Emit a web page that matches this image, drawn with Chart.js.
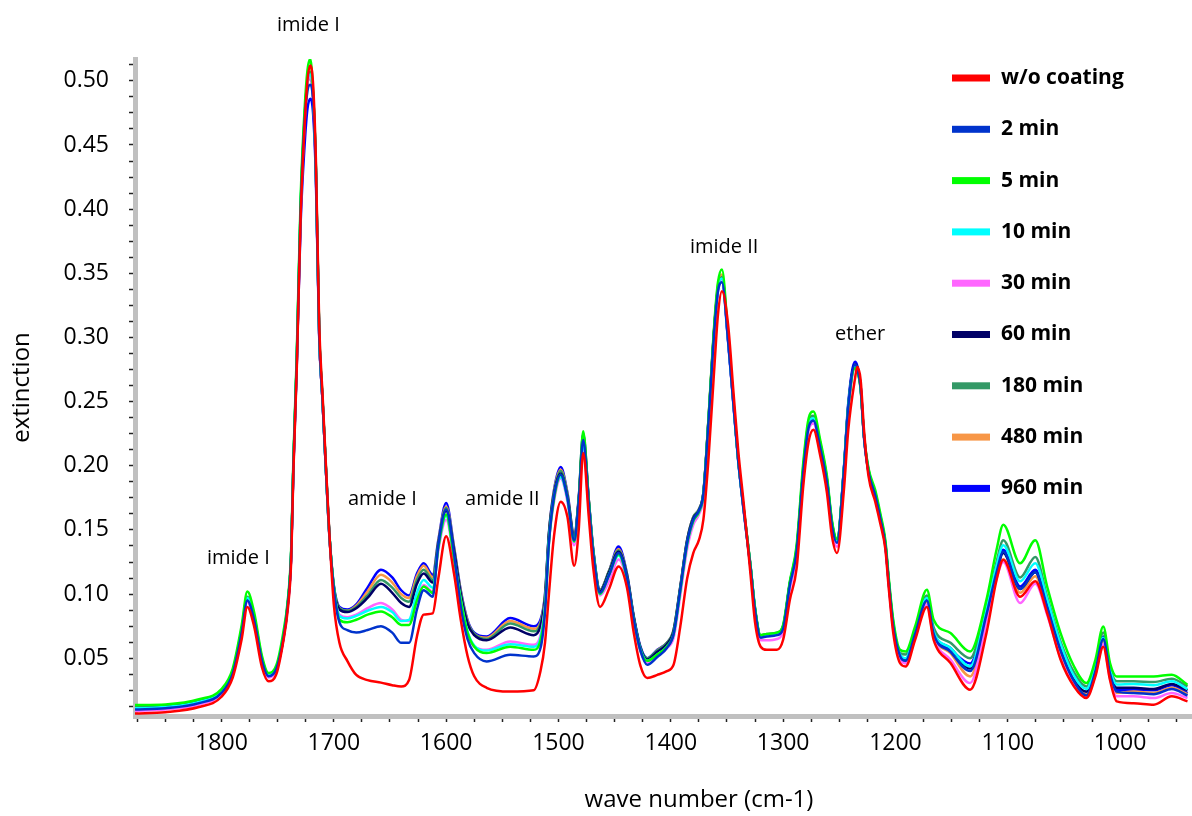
<!DOCTYPE html>
<html>
<head>
<meta charset="utf-8">
<script src="https://cdn.jsdelivr.net/npm/chart.js@4.4.1/dist/chart.umd.min.js"></script>
<style>
  html, body { margin: 0; padding: 0; background: #fff; }
</style>
</head>
<body>
<canvas id="spectrumChart" width="1192" height="816"></canvas>
<script>
// wave numbers (cm-1)
const waveNumbers = [
    1877, 1850, 1820, 1800, 1790, 1782, 1777, 1771, 1764, 1758,
    1751, 1745, 1741, 1738, 1736, 1733, 1729.5, 1726, 1723.5, 1721,
    1718.5, 1716, 1713, 1710, 1707, 1704, 1700, 1695, 1688, 1680,
    1670, 1658, 1648, 1640, 1633, 1626, 1620, 1612, 1607, 1600,
    1593, 1587, 1581, 1575, 1564, 1543, 1522, 1516, 1512, 1508.5,
    1504, 1498, 1492, 1486, 1482, 1478, 1473, 1469, 1463, 1455,
    1446.5, 1439, 1433, 1427, 1421, 1412, 1403.5, 1397.5, 1391.5, 1385.5,
    1380, 1375, 1371, 1366.5, 1361, 1358, 1354.5, 1349, 1344, 1340,
    1335, 1329, 1325, 1320, 1314.5, 1305.5, 1300, 1294, 1288, 1282,
    1277.5, 1273, 1267, 1261, 1256.5, 1252, 1246, 1242, 1236, 1234,
    1231, 1228, 1224, 1218, 1213.5, 1209, 1206, 1202, 1196, 1191,
    1182.5, 1172, 1166, 1151, 1133.5, 1119, 1110, 1104, 1089, 1075.5,
    1065, 1053, 1041, 1030, 1022, 1015, 1009, 1003, 988, 970, 954, 940
];

const woCoating = [
    .007, .008, .012, .020, .035, .065, .090, .075, .043, .032,
    .038, .063, .088, .125, .195, .275, .395, .465, .500, .512,
    .498, .440, .310, .255, .200, .148, .092, .062, .048, .037,
    .033, .031, .029, .028, .033, .067, .084, .085, .112, .145,
    .116, .080, .052, .036, .027, .024, .025, .040, .062, .100,
    .145, .172, .160, .122, .150, .210, .160, .120, .090, .104,
    .1215, .105, .070, .044, .0346, .037, .040, .045, .075, .112,
    .132, .142, .158, .205, .280, .318, .336, .310, .255, .212,
    .170, .115, .078, .059, .0566, .0566, .0644, .0956, .120, .185,
    .218, .228, .208, .179, .145, .132, .180, .228, .268, .277,
    .267, .228, .192, .172, .155, .135, .105, .070, .0463, .0436,
    .0644, .090, .0644, .0463, .0255, .0696, .111, .1267, .098, .110,
    .0852, .049, .028, .019, .0358, .059, .033, .0164, .015, .0138, .0203, .0164
];

const min2 = [
    .010, .011, .015, .023, .038, .070, .095, .080, .048, .036,
    .042, .065, .091, .129, .198, .278, .398, .468, .492, .497,
    .485, .430, .302, .250, .196, .147, .104, .078, .072, .070,
    .072, .075, .070, .062, .062, .088, .103, .098, .138, .166,
    .132, .090, .065, .054, .0475, .0527, .0514, .058, .086, .140,
    .176, .193, .175, .142, .172, .220, .170, .131, .101, .115,
    .132, .113, .080, .056, .045, .051, .058, .069, .104, .140,
    .158, .165, .178, .233, .308, .336, .343, .297, .245, .204,
    .164, .120, .087, .066, .067, .068, .073, .107, .133, .196,
    .229, .235, .214, .187, .153, .140, .195, .246, .279, .276,
    .261, .222, .195, .177, .159, .138, .109, .075, .052, .048,
    .069, .095, .069, .055, .040, .084, .117, .133, .104, .117,
    .090, .056, .032, .021, .040, .065, .038, .024, .0229, .022, .026, .021
];

const min5 = [
    .0135, .014, .018, .026, .042, .076, .102, .086, .052, .0385,
    .045, .070, .095, .134, .205, .287, .410, .478, .508, .517,
    .492, .435, .305, .252, .198, .148, .106, .080, .078, .080,
    .084, .0865, .082, .076, .076, .095, .106, .101, .136, .162,
    .128, .095, .070, .059, .054, .059, .0566, .064, .088, .140,
    .174, .193, .175, .141, .172, .227, .172, .132, .100, .115,
    .131, .112, .080, .056, .048, .053, .059, .069, .103, .139,
    .157, .164, .178, .236, .314, .343, .353, .302, .248, .205,
    .166, .122, .089, .068, .069, .070, .076, .110, .138, .203,
    .236, .2423, .220, .192, .157, .143, .195, .245, .276, .274,
    .260, .224, .198, .181, .163, .142, .113, .080, .0566, .0553,
    .0748, .1034, .080, .0696, .0553, .0956, .1345, .154, .124, .142,
    .106, .0696, .0436, .0307, .0488, .0748, .0463, .0358, .0358, .0358, .0372, .0294
];

const min10 = [
    .011, .012, .016, .024, .039, .072, .097, .082, .049, .037,
    .043, .066, .093, .131, .202, .283, .405, .472, .500, .505,
    .490, .433, .303, .251, .197, .147, .105, .083, .081, .083,
    .087, .090, .086, .079, .080, .101, .111, .105, .137, .161,
    .129, .096, .071, .060, .056, .061, .059, .066, .090, .142,
    .176, .191, .174, .141, .171, .217, .171, .132, .100, .115,
    .130, .112, .080, .057, .048, .053, .059, .069, .103, .139,
    .157, .164, .177, .234, .309, .338, .346, .298, .246, .204,
    .165, .121, .088, .067, .068, .069, .074, .108, .134, .198,
    .231, .237, .216, .189, .155, .141, .196, .247, .278, .276,
    .261, .223, .196, .178, .160, .139, .110, .077, .053, .050,
    .071, .097, .071, .058, .0436, .088, .122, .138, .110, .124,
    .096, .061, .036, .026, .044, .066, .041, .0296, .030, .029, .032, .026
];

const min30 = [
    .009, .010, .014, .022, .037, .069, .094, .079, .047, .035,
    .041, .064, .090, .128, .197, .278, .398, .468, .497, .503,
    .488, .430, .302, .250, .196, .146, .104, .084, .082, .084,
    .089, .093, .088, .080, .079, .097, .107, .102, .134, .158,
    .127, .094, .070, .059, .0566, .063, .0605, .068, .091, .140,
    .172, .190, .172, .138, .167, .214, .167, .128, .099, .110,
    .127, .110, .078, .055, .047, .052, .058, .066, .099, .135,
    .154, .162, .175, .232, .307, .336, .344, .297, .245, .204,
    .164, .120, .086, .064, .064, .065, .071, .104, .130, .194,
    .227, .233, .212, .185, .150, .137, .192, .243, .276, .275,
    .262, .224, .195, .176, .158, .137, .107, .073, .050, .046,
    .066, .092, .066, .049, .0307, .078, .112, .125, .093, .108,
    .084, .050, .029, .020, .037, .061, .034, .0203, .0203, .019, .0229, .019
];

const min60 = [
    .011, .012, .016, .024, .039, .071, .096, .081, .049, .036,
    .042, .065, .092, .130, .200, .281, .402, .470, .498, .503,
    .489, .432, .302, .250, .196, .146, .105, .088, .086, .089,
    .097, .108, .101, .093, .090, .108, .116, .109, .139, .165,
    .134, .100, .077, .068, .064, .074, .068, .075, .096, .146,
    .178, .194, .176, .144, .173, .220, .172, .133, .102, .117,
    .133, .114, .082, .058, .049, .055, .061, .071, .105, .141,
    .159, .165, .178, .234, .310, .338, .345, .298, .246, .205,
    .165, .121, .088, .067, .068, .069, .074, .108, .134, .197,
    .230, .236, .215, .188, .154, .141, .196, .247, .279, .277,
    .262, .223, .196, .178, .160, .139, .110, .076, .052, .049,
    .070, .096, .070, .058, .042, .085, .117, .132, .104, .117,
    .090, .057, .033, .024, .042, .066, .039, .027, .027, .026, .030, .025
];

const min180 = [
    .012, .013, .017, .025, .040, .073, .098, .083, .050, .037,
    .043, .066, .093, .131, .201, .282, .404, .472, .500, .507,
    .490, .433, .303, .251, .197, .147, .106, .089, .087, .090,
    .099, .111, .105, .097, .094, .111, .119, .111, .140, .167,
    .135, .101, .078, .069, .065, .077, .071, .077, .098, .147,
    .179, .196, .177, .145, .174, .222, .173, .134, .103, .118,
    .134, .115, .082, .058, .050, .056, .062, .072, .106, .142,
    .160, .166, .179, .235, .311, .339, .347, .299, .247, .205,
    .166, .122, .089, .068, .069, .070, .075, .109, .136, .200,
    .233, .239, .218, .190, .156, .142, .196, .246, .277, .275,
    .260, .223, .197, .179, .161, .140, .111, .078, .054, .053,
    .072, .099, .074, .062, .050, .091, .125, .142, .113, .129,
    .098, .063, .039, .028, .046, .070, .043, .032, .032, .0315, .034, .028
];

const min480 = [
    .010, .011, .015, .023, .038, .070, .095, .080, .048, .036,
    .042, .065, .092, .130, .200, .281, .402, .470, .498, .505,
    .490, .432, .302, .250, .196, .146, .106, .089, .087, .091,
    .102, .115, .109, .100, .097, .114, .122, .113, .141, .168,
    .136, .102, .079, .069, .066, .079, .073, .078, .099, .147,
    .180, .197, .178, .145, .174, .222, .173, .134, .103, .118,
    .135, .115, .082, .058, .049, .056, .062, .072, .106, .142,
    .160, .166, .179, .236, .312, .341, .349, .300, .247, .205,
    .165, .121, .088, .067, .068, .069, .074, .108, .134, .197,
    .231, .237, .216, .189, .155, .141, .195, .246, .277, .275,
    .260, .222, .195, .177, .159, .138, .109, .075, .051, .047,
    .068, .094, .068, .054, .0358, .081, .115, .127, .101, .114,
    .088, .054, .031, .022, .039, .064, .037, .023, .024, .023, .027, .022
];

const min960 = [
    .0105, .0115, .0155, .0235, .039, .071, .096, .081, .049, .036,
    .042, .065, .092, .130, .200, .280, .390, .450, .478, .486,
    .475, .425, .300, .250, .197, .147, .107, .090, .088, .092,
    .105, .119, .113, .103, .099, .116, .124, .115, .142, .171,
    .137, .103, .080, .070, .067, .0813, .075, .080, .100, .148,
    .181, .199, .179, .146, .175, .225, .1735, .1345, .1034, .118,
    .137, .116, .083, .059, .050, .0566, .062, .072, .106, .142,
    .160, .166, .179, .235, .311, .338, .347, .298, .246, .205,
    .165, .1215, .088, .067, .068, .0696, .0748, .1086, .1345, .197,
    .2306, .236, .215, .189, .155, .142, .197, .249, .281, .278,
    .262, .223, .196, .178, .160, .139, .110, .076, .053, .049,
    .070, .0956, .0696, .057, .046, .087, .119, .1345, .106, .119,
    .092, .058, .034, .0229, .042, .067, .040, .0255, .0255, .025, .029, .0229
];

const seriesNames = ['w/o coating', '2 min', '5 min', '10 min', '30 min', '60 min', '180 min', '480 min', '960 min'];
const seriesColors = ['#ff0000', '#0033cc', '#00ff00', '#00ffff', '#ff66ff', '#000066', '#339966', '#f79646', '#0000ff'];

const yTickValues = [0.05, 0.10, 0.15, 0.20, 0.25, 0.30, 0.35, 0.40, 0.45, 0.50];
const xTickValues = [1800, 1700, 1600, 1500, 1400, 1300, 1200, 1100, 1000];

// band labels, placed at (wave number, extinction)
const bandLabels = [
    { text: 'imide I', wn: 1722.6, ext: 0.5435 },
    { text: 'imide I', wn: 1785, ext: 0.128 },
    { text: 'amide I', wn: 1656.7, ext: 0.1735 },
    { text: 'amide II', wn: 1550, ext: 0.1735 },
    { text: 'imide II', wn: 1352.5, ext: 0.3706 },
    { text: 'ether', wn: 1231.5, ext: 0.3028 }
];

const FONT = '"Open Sans", "DejaVu Sans", sans-serif';
const TEXT_COLOR = '#000';
const AXIS_COLOR = '#c0c0c0';

// minor tick positions
const xMinor = [];
for (let v = 1875; v >= 950; v -= 25) xMinor.push(v);
const yMinor = [];
for (let k = 1; k <= 41; k++) yMinor.push(+(k * 0.0125).toFixed(4));

const isMajorY = v => yTickValues.some(t => Math.abs(t - v) < 1e-6);

const overlayPlugin = {
    id: 'overlay',
    afterDatasetsDraw(chart) {
        const { ctx, scales: { x, y } } = chart;
        ctx.save();

        // band labels
        ctx.fillStyle = TEXT_COLOR;
        ctx.font = '20px ' + FONT;
        ctx.textAlign = 'center';
        ctx.textBaseline = 'middle';
        bandLabels.forEach(b => {
            ctx.fillText(b.text, x.getPixelForValue(b.wn), y.getPixelForValue(b.ext));
        });

        // legend, top right inside the plot
        ctx.font = 'bold 21px ' + FONT;
        ctx.textAlign = 'left';
        chart.data.datasets.forEach((ds, i) => {
            const ly = 78 + i * 51.3;
            ctx.fillStyle = ds.borderColor;
            ctx.fillRect(952, ly - 3.5, 38, 7);
            ctx.fillStyle = TEXT_COLOR;
            ctx.fillText(ds.label, 1001, ly);
        });

        // x axis title
        ctx.font = '24px ' + FONT;
        ctx.textAlign = 'center';
        ctx.fillText('wave number (cm-1)', 699, 800);
        ctx.restore();
    }
};

const allSeries = [woCoating, min2, min5, min10, min30, min60, min180, min480, min960];

const datasets = allSeries.map((vals, i) => ({
    label: seriesNames[i],
    data: waveNumbers.map((w, k) => ({ x: w, y: vals[k] })),
    borderColor: seriesColors[i],
    backgroundColor: seriesColors[i],
    borderWidth: 2.5,
    pointRadius: 0,
    cubicInterpolationMode: 'monotone',
    fill: false
}));

const ctx = document.getElementById('spectrumChart').getContext('2d');
new Chart(ctx, {
    type: 'line',
    data: { datasets: datasets },
    options: {
        responsive: false,
        animation: false,
        layout: { padding: { top: 59, right: 0, left: 0, bottom: 0 } },
        plugins: {
            legend: { display: false },
            tooltip: { enabled: false }
        },
        scales: {
            x: {
                type: 'linear',
                reverse: true,
                min: 936,
                max: 1877,
                afterFit: s => { s.height = 100; },
                afterBuildTicks: s => { s.ticks = xMinor.map(v => ({ value: v })); },
                border: { display: true, color: AXIS_COLOR, width: 5 },
                grid: { drawOnChartArea: false, drawTicks: true, tickLength: 6, tickColor: '#222', tickWidth: 1.5 },
                ticks: {
                    autoSkip: false,
                    maxRotation: 0,
                    padding: 8,
                    color: TEXT_COLOR,
                    font: { family: FONT, size: 23 },
                    callback: v => xTickValues.includes(v) ? String(v) : ''
                }
            },
            y: {
                type: 'linear',
                min: 0.005,
                max: 0.517,
                afterFit: s => { s.width = 135; },
                afterBuildTicks: s => { s.ticks = yMinor.map(v => ({ value: v })); },
                border: { display: true, color: AXIS_COLOR, width: 5 },
                grid: { drawOnChartArea: false, drawTicks: true, tickLength: 6, tickColor: '#222', tickWidth: 1.5 },
                title: {
                    display: true,
                    text: 'extinction',
                    color: TEXT_COLOR,
                    font: { family: FONT, size: 24 },
                    padding: { top: 8, bottom: 0 }
                },
                ticks: {
                    autoSkip: false,
                    padding: 20,
                    color: TEXT_COLOR,
                    font: { family: FONT, size: 23 },
                    callback: v => isMajorY(v) ? v.toFixed(2) : ''
                }
            }
        }
    },
    plugins: [overlayPlugin]
});
</script>
</body>
</html>
